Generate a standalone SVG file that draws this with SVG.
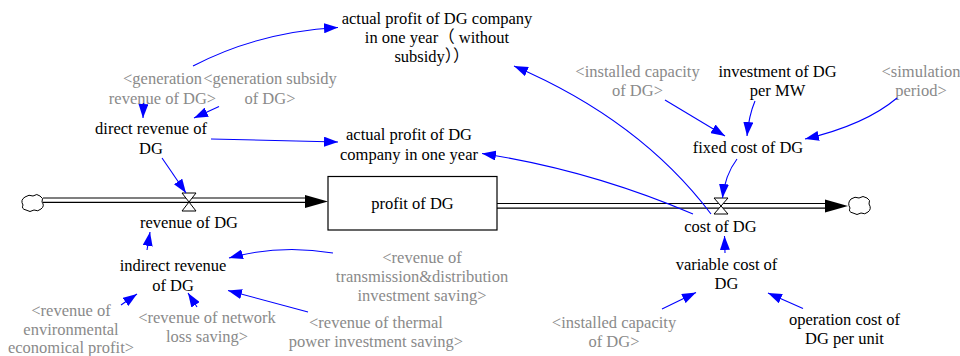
<svg xmlns="http://www.w3.org/2000/svg" width="960" height="356" viewBox="0 0 960 356">
<style>
text{font-size:16.5px;fill:#000;text-anchor:middle}
text.sh{fill:#8a8a8a}
.lk{fill:none;stroke:#0000ff;stroke-width:1.1;marker-end:url(#ah)}
.pipe{fill:none;stroke:#000;stroke-width:1.2}
.valve{fill:#fff;stroke:#000;stroke-width:1}
.cloud{fill:#fff;stroke:#000;stroke-width:1}
</style>
<defs>
<marker id="ah" viewBox="0 0 14 10" refX="14" refY="5" markerWidth="14" markerHeight="10" markerUnits="userSpaceOnUse" orient="auto">
<path d="M0,0 L14,5 L0,10 Z" fill="#0000ff"/>
</marker>
</defs>
<rect width="960" height="356" fill="#fff"/>

<g id="flows">
<path class="pipe" d="M43,198 H306 M43,202.3 H306"/>
<polygon points="305,195 328,201.5 305,208" fill="#000"/>
<path class="pipe" d="M497,203.5 H826 M497,208.2 H826"/>
<polygon points="825,199.5 848,206 825,212.5" fill="#000"/>
</g>

<g id="cloud-left">
<path class="cloud" d="M25,197 q4,-3 8,-1 q4,-3 7,0 q4,2 2,6 q3,4 -1,7 q-3,3 -7,1 q-4,3 -8,0 q-5,-1 -3,-5 q-3,-5 2,-8 Z"/>
</g>
<g id="cloud-right">
<path class="cloud" d="M851,199 q4,-3 8,-1 q4,-3 8,0 q4,2 2,6 q3,5 -1,8 q-3,3 -7,1 q-4,3 -8,0 q-5,-1 -3,-5 q-3,-5 1,-9 Z"/>
</g>

<g font-family="Liberation Serif, Noto Sans CJK SC, serif">
<g id="stock-profit">
<rect x="328" y="176.5" width="169" height="53.5" fill="#fff" stroke="#000" stroke-width="1.2"/>
<text x="412.5" y="209">profit of DG</text>
</g>

<g id="flow-revenue">
<path class="valve" d="M182,193 H196 L182,211 H196 Z"/>
<text x="189" y="228">revenue of DG</text>
</g>

<g id="flow-cost">
<path class="valve" d="M714,198 H728 L714,214 H728 Z"/>
<text x="720.5" y="232">cost of DG</text>
</g>

<g id="actual-profit-no-subsidy">
<text x="437" y="24">actual profit of DG company</text>
<text x="437" y="43">in one year（ without</text>
<text x="432" y="62">subsidy））</text>
</g>

<g id="shadow-generation-revenue">
<text class="sh" x="162.5" y="84">&lt;generation</text>
<text class="sh" x="162.5" y="104">revenue of DG&gt;</text>
</g>

<g id="shadow-generation-subsidy">
<text class="sh" x="270" y="84">&lt;generation subsidy</text>
<text class="sh" x="270" y="104">of DG&gt;</text>
</g>

<g id="direct-revenue">
<text x="151" y="134">direct revenue of</text>
<text x="151" y="154">DG</text>
</g>

<g id="actual-profit">
<text x="409" y="140">actual profit of DG</text>
<text x="409" y="160">company in one year</text>
</g>

<g id="shadow-installed-capacity-top">
<text class="sh" x="637.5" y="77">&lt;installed capacity</text>
<text class="sh" x="637.5" y="96">of DG&gt;</text>
</g>

<g id="investment-per-mw">
<text x="777.5" y="77">investment of DG</text>
<text x="777.5" y="96">per MW</text>
</g>

<g id="shadow-simulation-period">
<text class="sh" x="921" y="77">&lt;simulation</text>
<text class="sh" x="921" y="96">period&gt;</text>
</g>

<g id="fixed-cost">
<text x="748" y="153">fixed cost of DG</text>
</g>

<g id="indirect-revenue">
<text x="173" y="271">indirect revenue</text>
<text x="173" y="291">of DG</text>
</g>

<g id="shadow-transmission">
<text class="sh" x="422" y="263">&lt;revenue of</text>
<text class="sh" x="422" y="282">transmission&amp;distribution</text>
<text class="sh" x="422" y="301">investment saving&gt;</text>
</g>

<g id="shadow-environmental">
<text class="sh" x="71" y="316">&lt;revenue of</text>
<text class="sh" x="71" y="334.5">environmental</text>
<text class="sh" x="71" y="353">economical profit&gt;</text>
</g>

<g id="shadow-network-loss">
<text class="sh" x="207" y="323">&lt;revenue of network</text>
<text class="sh" x="207" y="342">loss saving&gt;</text>
</g>

<g id="shadow-thermal">
<text class="sh" x="376" y="328">&lt;revenue of thermal</text>
<text class="sh" x="376" y="347">power investment saving&gt;</text>
</g>

<g id="variable-cost">
<text x="726.5" y="270">variable cost of</text>
<text x="726.5" y="289">DG</text>
</g>

<g id="shadow-installed-capacity-bottom">
<text class="sh" x="614" y="328">&lt;installed capacity</text>
<text class="sh" x="614" y="347">of DG&gt;</text>
</g>

<g id="operation-cost">
<text x="844.5" y="325">operation cost of</text>
<text x="844.5" y="344">DG per unit</text>
</g>
</g>

<g id="connectors">
<path class="lk" d="M193,66 Q258,32 338,27.5"/>
<path class="lk" d="M143.5,103 L143,118"/>
<path class="lk" d="M219,106.5 L194,118"/>
<path class="lk" d="M211,139 L338,142"/>
<path class="lk" d="M162,158 L186,193"/>
<path class="lk" d="M147,250 L150,232"/>
<path class="lk" d="M333,253 Q280,244 229,258"/>
<path class="lk" d="M308,312 L228,290.5"/>
<path class="lk" d="M197,307 L188,293"/>
<path class="lk" d="M121,305 L137,294"/>
<path class="lk" d="M711,214 Q640,120 514,66"/>
<path class="lk" d="M693,214 Q590,170 482,153.5"/>
<path class="lk" d="M665,100 L725,136"/>
<path class="lk" d="M755,101 Q749,115 747,136"/>
<path class="lk" d="M897,98 Q865,125 805,139"/>
<path class="lk" d="M737,159 Q725,175 722.5,198"/>
<path class="lk" d="M725,253 L724.5,236"/>
<path class="lk" d="M662,309 L696,292.5"/>
<path class="lk" d="M803,308.5 L768,293"/>
</g>
</svg>
